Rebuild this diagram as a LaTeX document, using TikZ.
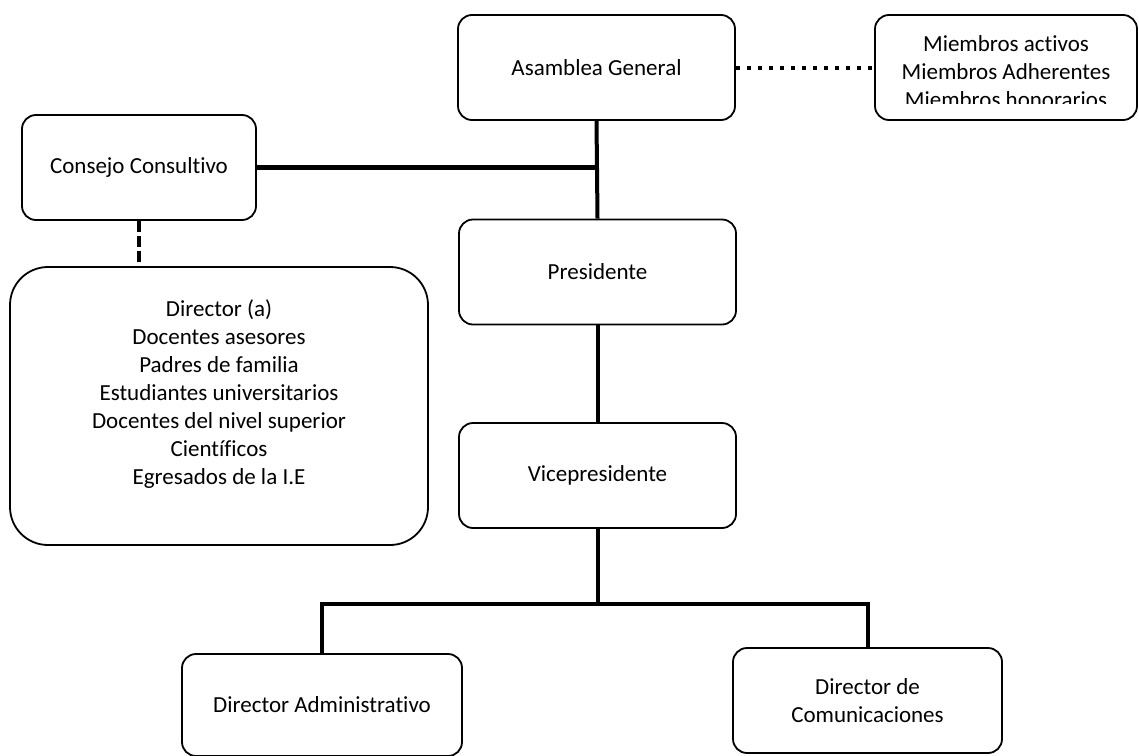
\documentclass[tikz,border=0pt]{standalone}
\usepackage{fontspec}
\setmainfont{Carlito}[Ligatures=NoCommon]
\begin{document}
\begin{tikzpicture}[x=1pt, y=-1pt, line join=round, font=\fontsize{23}{28}\selectfont,
	caja/.style={draw, line width=1.8pt, rounded corners=14pt, minimum width=277pt, minimum height=105pt, align=center, inner sep=0pt},
	enlace/.style={line width=4pt, line join=miter}]
	\useasboundingbox (0,0) rectangle (1139,755);
	% Cajas
	\node[caja] (asamblea) at (596.5,67.5) {Asamblea General};
	\node[caja, minimum width=262pt] (miembros) at (1006,67.5) {};
	\begin{scope}
		\clip (870,0) rectangle (1139,103);
		\node[align=center] (listaMiembros) at (1006,72) {Miembros activos\\Miembros Adherentes\\Miembros honorarios};
	\end{scope}
	\node[caja, minimum width=234pt] (consejo) at (139,167.5) {Consejo Consultivo};
	\node[caja, rounded corners=38pt, minimum width=418pt, minimum height=278pt] (grupoConsejo) at (219,406) {};
	\node[align=center] (listaConsejo) at (219,394) {Director (a)\\Docentes asesores\\Padres de familia\\Estudiantes universitarios\\Docentes del nivel superior\\Científicos\\Egresados de la I.E};
	\node[caja] (presidente) at (597.5,272) {Presidente};
	\node[caja] (vice) at (597.5,475.5) {Vicepresidente};
	\node[caja, minimum width=280pt, minimum height=102pt] (dirAdmin) at (322,705) {Director Administrativo};
	\node[caja, minimum width=269pt] (dirCom) at (867.5,700.5) {Director de\\Comunicaciones};
	% Conexiones
	\coordinate (ramal) at (597.5,604);
	\draw[line width=4pt, dash pattern=on 4pt off 7pt] (asamblea.east) -- (miembros.west);
	\draw[enlace] (asamblea.south) -- (presidente.north);
	\draw[enlace, line width=5pt] (consejo.east) -- (consejo.east -| asamblea.south);
	\draw[line width=4pt, dash pattern=on 11pt off 4pt] (consejo.south) -- (grupoConsejo.north -| consejo.south);
	\draw[enlace] (presidente.south) -- (vice.north);
	\draw[enlace] (vice.south) -- (ramal);
	\draw[enlace] (dirAdmin.north) |- (dirCom.north |- ramal) -- (dirCom.north);
\end{tikzpicture}
\end{document}
